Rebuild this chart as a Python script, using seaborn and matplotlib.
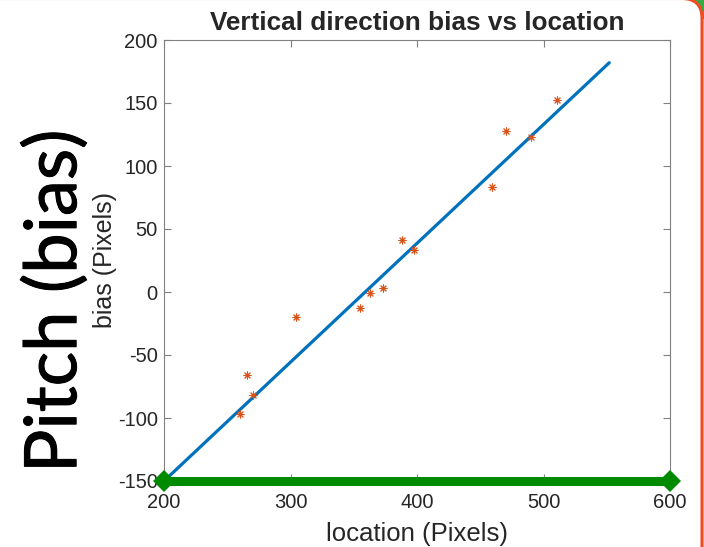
import matplotlib
matplotlib.use("Agg")
import matplotlib.pyplot as plt
import matplotlib.patheffects as pe
from matplotlib.patches import FancyBboxPatch, Rectangle
import seaborn as sns

# measured points (location vs vertical bias)
loc_x = [260, 266, 270, 304, 355, 363, 373, 388, 398, 459, 470, 490, 511]
bias_y = [-97, -66, -82, -20, -13, -1, 3, 41, 33, 83, 128, 123, 152]

# fitted line
fit_x = [200, 552]
fit_y = [-150, 182]

# green reference bar along the bottom
ref_x = [200, 600]
ref_y = [-150, -150]

x_ticks = [200, 300, 400, 500, 600]
y_ticks = [-150, -100, -50, 0, 50, 100, 150, 200]

sns.set_style("ticks")
plt.rcParams['font.family'] = ['Liberation Sans', 'DejaVu Sans']
plt.rcParams['axes.unicode_minus'] = False

fig = plt.figure(figsize=(7.04, 5.47), dpi=100)
ax = fig.add_axes([164 / 704, 1 - 481 / 547, 506 / 704, 441 / 547])
ax.set_zorder(1)

# slide frame in the corner
fig.patches.append(Rectangle((680, 528), 40, 40, transform=None,
                             facecolor='#3aa845', edgecolor='none', zorder=-3))
fig.patches.append(FancyBboxPatch((-30, -30), 732, 578.5, transform=None,
                                  boxstyle="round,pad=0,rounding_size=20",
                                  facecolor='white', edgecolor='#f04b23',
                                  linewidth=2.2, zorder=-2))
fig.patch.set_facecolor('white')

sns.lineplot(x=fit_x, y=fit_y, ax=ax, color='#0072BD', linewidth=2.3,
             sort=False, estimator=None)
sns.scatterplot(x=loc_x, y=bias_y, ax=ax, marker=(8, 2, 0), color='#D95319',
                s=26, linewidth=0.75, zorder=3)
sns.lineplot(x=ref_x, y=ref_y, ax=ax, color='#008a00', linewidth=6.5,
             marker='D', markersize=11, markeredgewidth=0, sort=False,
             estimator=None, zorder=4, clip_on=False)

ax.set_xlim(200, 600)
ax.set_ylim(-150, 200)
ax.set_xticks(x_ticks)
ax.set_yticks(y_ticks)
ax.tick_params(direction='in', length=5, width=0.8, color='#808080',
               labelsize=14.5, labelcolor='#262626', top=True, right=True)
ax.tick_params(axis='x', pad=8.5)
ax.tick_params(axis='y', pad=4.5)
for s in ax.spines.values():
    s.set_color('#808080')
    s.set_linewidth(0.8)

ax.set_title("Vertical direction bias vs location", fontsize=18.8,
             fontweight='bold', pad=7)
ax.set_xlabel("location (Pixels)", fontsize=18.5, color='#262626', labelpad=7)
ax.set_ylabel("bias (Pixels)", fontsize=18, color='#262626')
ax.yaxis.set_label_coords(-0.092, 0.5)

fig.text(55 / 704, 1 - 301 / 547, "Pitch (bias)", rotation=90, ha='center',
         va='center', fontsize=52, family=['Lato', 'DejaVu Sans'],
         color='black', zorder=5,
         path_effects=[pe.withStroke(linewidth=0.7, foreground='black')])

fig.savefig("out.png", dpi=100)
